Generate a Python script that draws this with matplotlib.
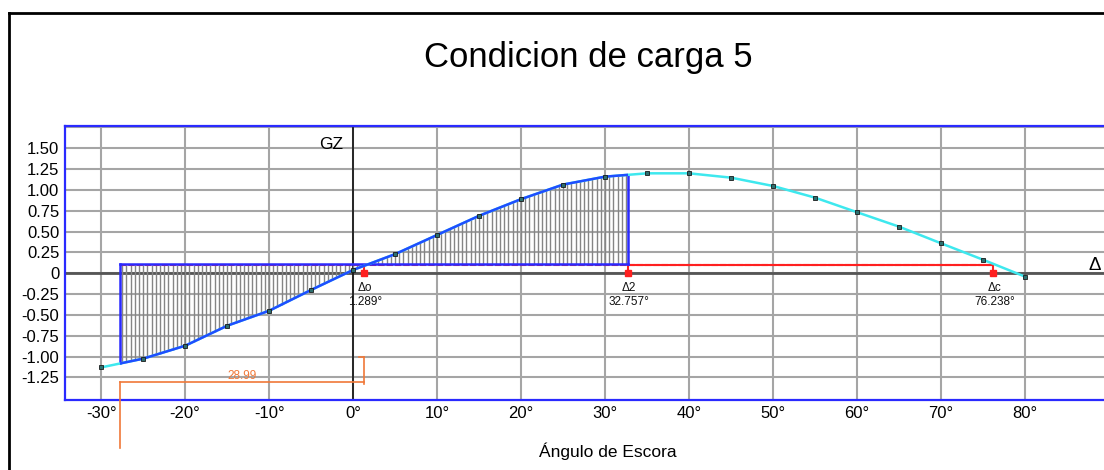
import numpy as np
import matplotlib
matplotlib.use("Agg")
import matplotlib.pyplot as plt
from matplotlib.patches import Rectangle
from matplotlib.lines import Line2D

# ---------------- data ----------------
angles = [-30, -25, -20, -15, -10, -5, 0, 5, 10, 15, 20, 25, 30, 35, 40, 45, 50, 55, 60, 65, 70, 75, 80]
gz = [-1.13, -1.025, -0.87, -0.63, -0.45, -0.20, 0.04, 0.23, 0.46, 0.69, 0.89, 1.065, 1.16,
      1.20, 1.20, 1.148, 1.048, 0.908, 0.733, 0.56, 0.36, 0.163, -0.04]
heel_arm = 0.10
delta_o = 1.289
delta_2 = 32.757
delta_c = 76.238
dist_label = 28.99
xticks = [-30, -20, -10, 0, 10, 20, 30, 40, 50, 60, 70, 80]
yticks = [-1.25, -1.0, -0.75, -0.5, -0.25, 0, 0.25, 0.5, 0.75, 1.0, 1.25, 1.5]
ytick_labels = ["-1.25", "-1.00", "-0.75", "-0.50", "-0.25", "0", "0.25", "0.50", "0.75", "1.00", "1.25", "1.50"]
title = "Condicion de carga 5"
xlabel = "Ángulo de Escora"

plt.rcParams['font.family'] = ['Liberation Sans', 'DejaVu Sans']

W, H = 1104, 470
fig = plt.figure(figsize=(W / 100, H / 100), dpi=100)

# figure frame (left / top black border)
fig.add_artist(Line2D([9 / W, 9 / W], [0, 1 - 13 / H], transform=fig.transFigure, color='black', lw=2))
fig.add_artist(Line2D([9 / W, 1], [1 - 13 / H, 1 - 13 / H], transform=fig.transFigure, color='black', lw=2))

fig.text(588 / W, 1 - 57 / H, title, ha='center', va='center', fontsize=25)

x0, x1 = -34.3, 95.0
y0, y1 = -1.521, 1.768
left_px, right_px = 65, 353 + x1 * 8.4
ax = fig.add_axes([left_px / W, 70 / H, (right_px - left_px) / W, (400 - 126) / H])
ax.set_xlim(x0, x1)
ax.set_ylim(y0, y1)

for s in ax.spines.values():
    s.set_color('#2a2aff')
    s.set_linewidth(1.6)

# grid
for xv in xticks + [90]:
    ax.axvline(xv, color='#a5a5a5', lw=1.5, zorder=1)
for yv in yticks + [1.75]:
    ax.axhline(yv, color='#a5a5a5', lw=1.5, zorder=1)
ax.axhline(0, color='#555555', lw=2, zorder=2)
ax.axvline(0, color='#111111', lw=1.2, zorder=2)

ax.set_xticks(xticks)
ax.set_xticklabels([f"{v}°" for v in xticks], fontsize=12)
ax.set_yticks(yticks)
ax.set_yticklabels(ytick_labels, fontsize=12)
ax.tick_params(length=0, pad=4)
ax.set_xlabel(xlabel, fontsize=12.5, labelpad=16)

left_bound = delta_o - dist_label

# hatch lines
hx = np.arange(-27.5, delta_2, 0.5)
hy = np.interp(hx, angles, gz)
ax.vlines(hx, hy, heel_arm, color='#858585', lw=1, zorder=3)

# red heeling-arm line and markers
ax.plot([left_bound, delta_c], [heel_arm, heel_arm], color='#ff2020', lw=1.5, ls=(0, (3, 1)), zorder=3)
ax.plot([delta_2, delta_c], [heel_arm, heel_arm], color='#ff2020', lw=1.5, zorder=4)
for d in (delta_o, delta_2, delta_c):
    ax.plot([d, d], [0, heel_arm], color='#ff2020', lw=1.5, zorder=4)
    ax.plot([d], [0], marker='s', ms=4, color='#ff2020', zorder=5)

# blue bounding lines of area
gl = np.interp(left_bound, angles, gz)
gr = np.interp(delta_2, angles, gz)
ax.plot([left_bound, delta_2], [heel_arm + 0.012, heel_arm + 0.012], color='#2a2aff', lw=1.8, zorder=4)
ax.plot([left_bound, left_bound], [gl, heel_arm + 0.012], color='#2a2aff', lw=1.8, zorder=4)
ax.plot([delta_2, delta_2], [heel_arm + 0.012, gr], color='#2a2aff', lw=1.8, zorder=4)

# GZ curve: cyan full, blue in the area
ax.plot(angles, gz, color='#3ee8ee', lw=1.8, zorder=5)
blue, = ax.plot(angles, gz, color='#1f4dff', lw=1.8, zorder=6)
clip = Rectangle((left_bound, y0), delta_2 - left_bound, y1 - y0, transform=ax.transData)
blue.set_clip_path(clip)
ax.plot(angles, gz, ls='none', marker='s', ms=3, mfc='#2d6f6f', mec='#1a1a1a', mew=0.6, zorder=7)

# labels for deltas
for d, name in ((delta_o, "Δo"), (delta_2, "Δ2"), (delta_c, "Δc")):
    ax.annotate(name, xy=(d, 0), xytext=(1, -15), textcoords='offset pixels',
                ha='center', va='center', fontsize=8.5, color='#111111')
    ax.annotate(f"{d:.3f}°", xy=(d, 0), xytext=(1, -29), textcoords='offset pixels',
                ha='center', va='center', fontsize=8.5, color='#111111')

ax.text(-1.2, 1.54, "GZ", ha='right', va='center', fontsize=12.5)
ax.text(88.3, 0.09, "Δ", ha='center', va='center', fontsize=13.5)

# orange dimension
oc = '#f07838'
ax.plot([left_bound, left_bound], [-2.10, -1.30], color=oc, lw=1.2, clip_on=False, zorder=6)
ax.plot([left_bound, delta_o], [-1.30, -1.30], color=oc, lw=1.2, clip_on=False, zorder=6)
ax.plot([delta_o, delta_o], [-1.0, -1.33], color=oc, lw=1.2, clip_on=False, zorder=6)
ax.plot([delta_o - 0.6, delta_o], [-1.0, -1.0], color=oc, lw=1.2, zorder=6)
ax.text((left_bound + delta_o) / 2, -1.31, f"{dist_label:.2f}", ha='center', va='bottom',
        fontsize=8.5, color=oc, zorder=6)

fig.savefig("out.png", dpi=100)
